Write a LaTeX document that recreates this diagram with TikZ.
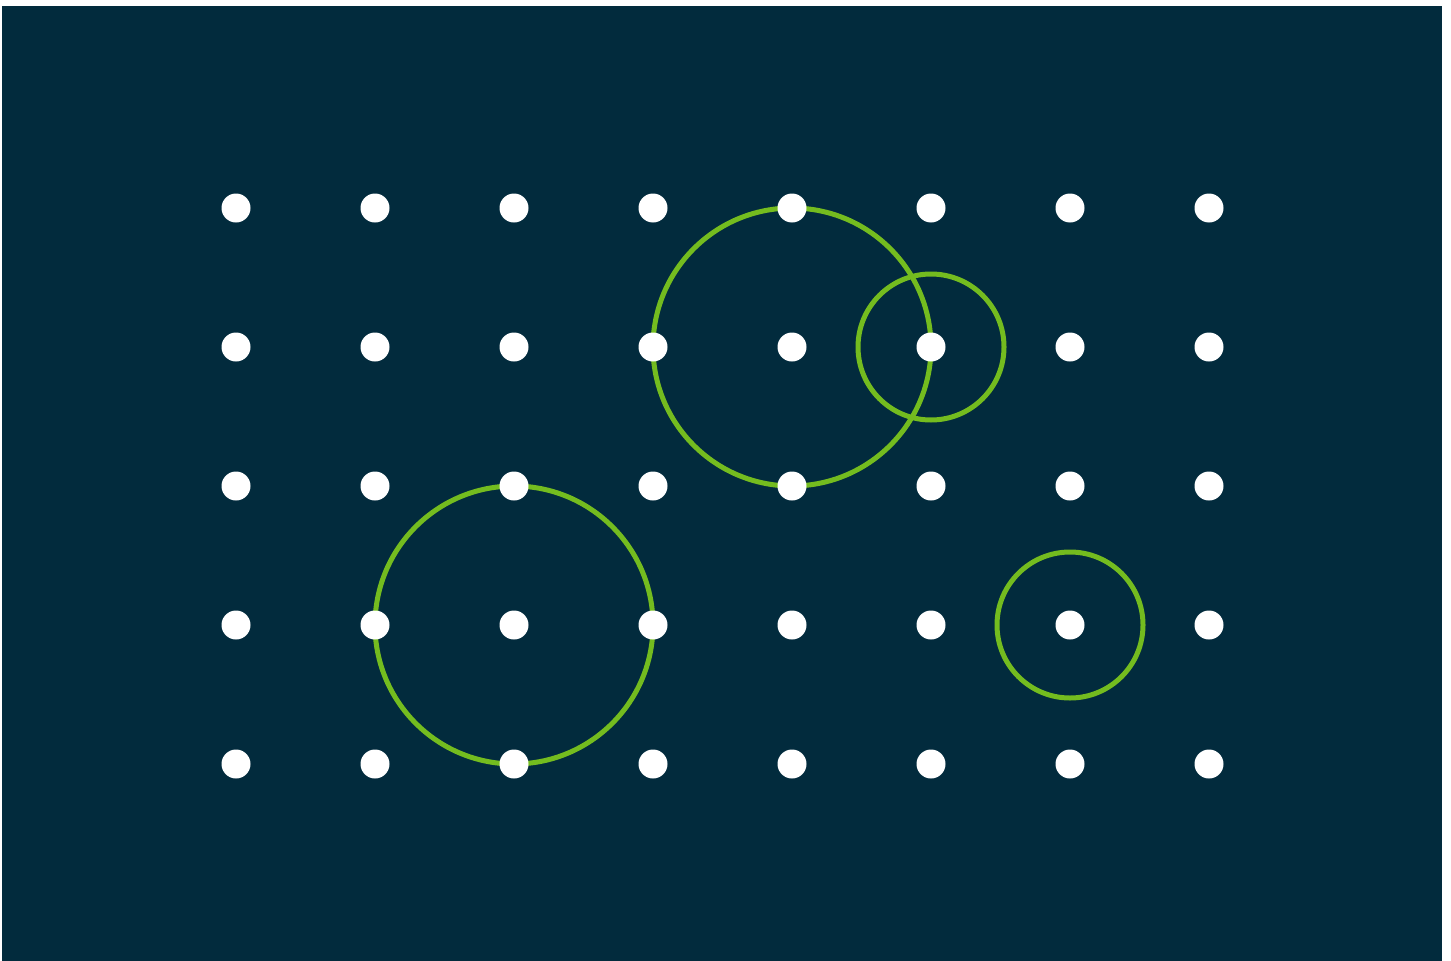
\documentclass[tikz,border=0pt]{standalone}
\definecolor{bgdark}{HTML}{022B3D}
\definecolor{ringgreen}{HTML}{74BC1F}
\tikzset{
  dot/.style={circle, fill=white, draw=none, minimum size=29pt, inner sep=0pt},
  ring/.style={draw=ringgreen, line width=5pt}
}
\begin{document}
\begin{tikzpicture}[x=1pt,y=-1pt]
\useasboundingbox (0,0) rectangle (1451,961);
\fill[white] (0,0) rectangle (1451,961);
\fill[bgdark] (2,6) rectangle (1442,961);
% rings
\draw[ring] (792,347) circle (139);
\draw[ring] (931,347) circle (73);
\draw[ring] (514,625) circle (139);
\draw[ring] (1070,625) circle (73);
% dots
\foreach \i in {0,...,7} {
  \foreach \j in {0,...,4} {
    \node[dot] (d\i\j) at ({236+139*\i},{208+139*\j}) {};
  }
}
\end{tikzpicture}
\end{document}
